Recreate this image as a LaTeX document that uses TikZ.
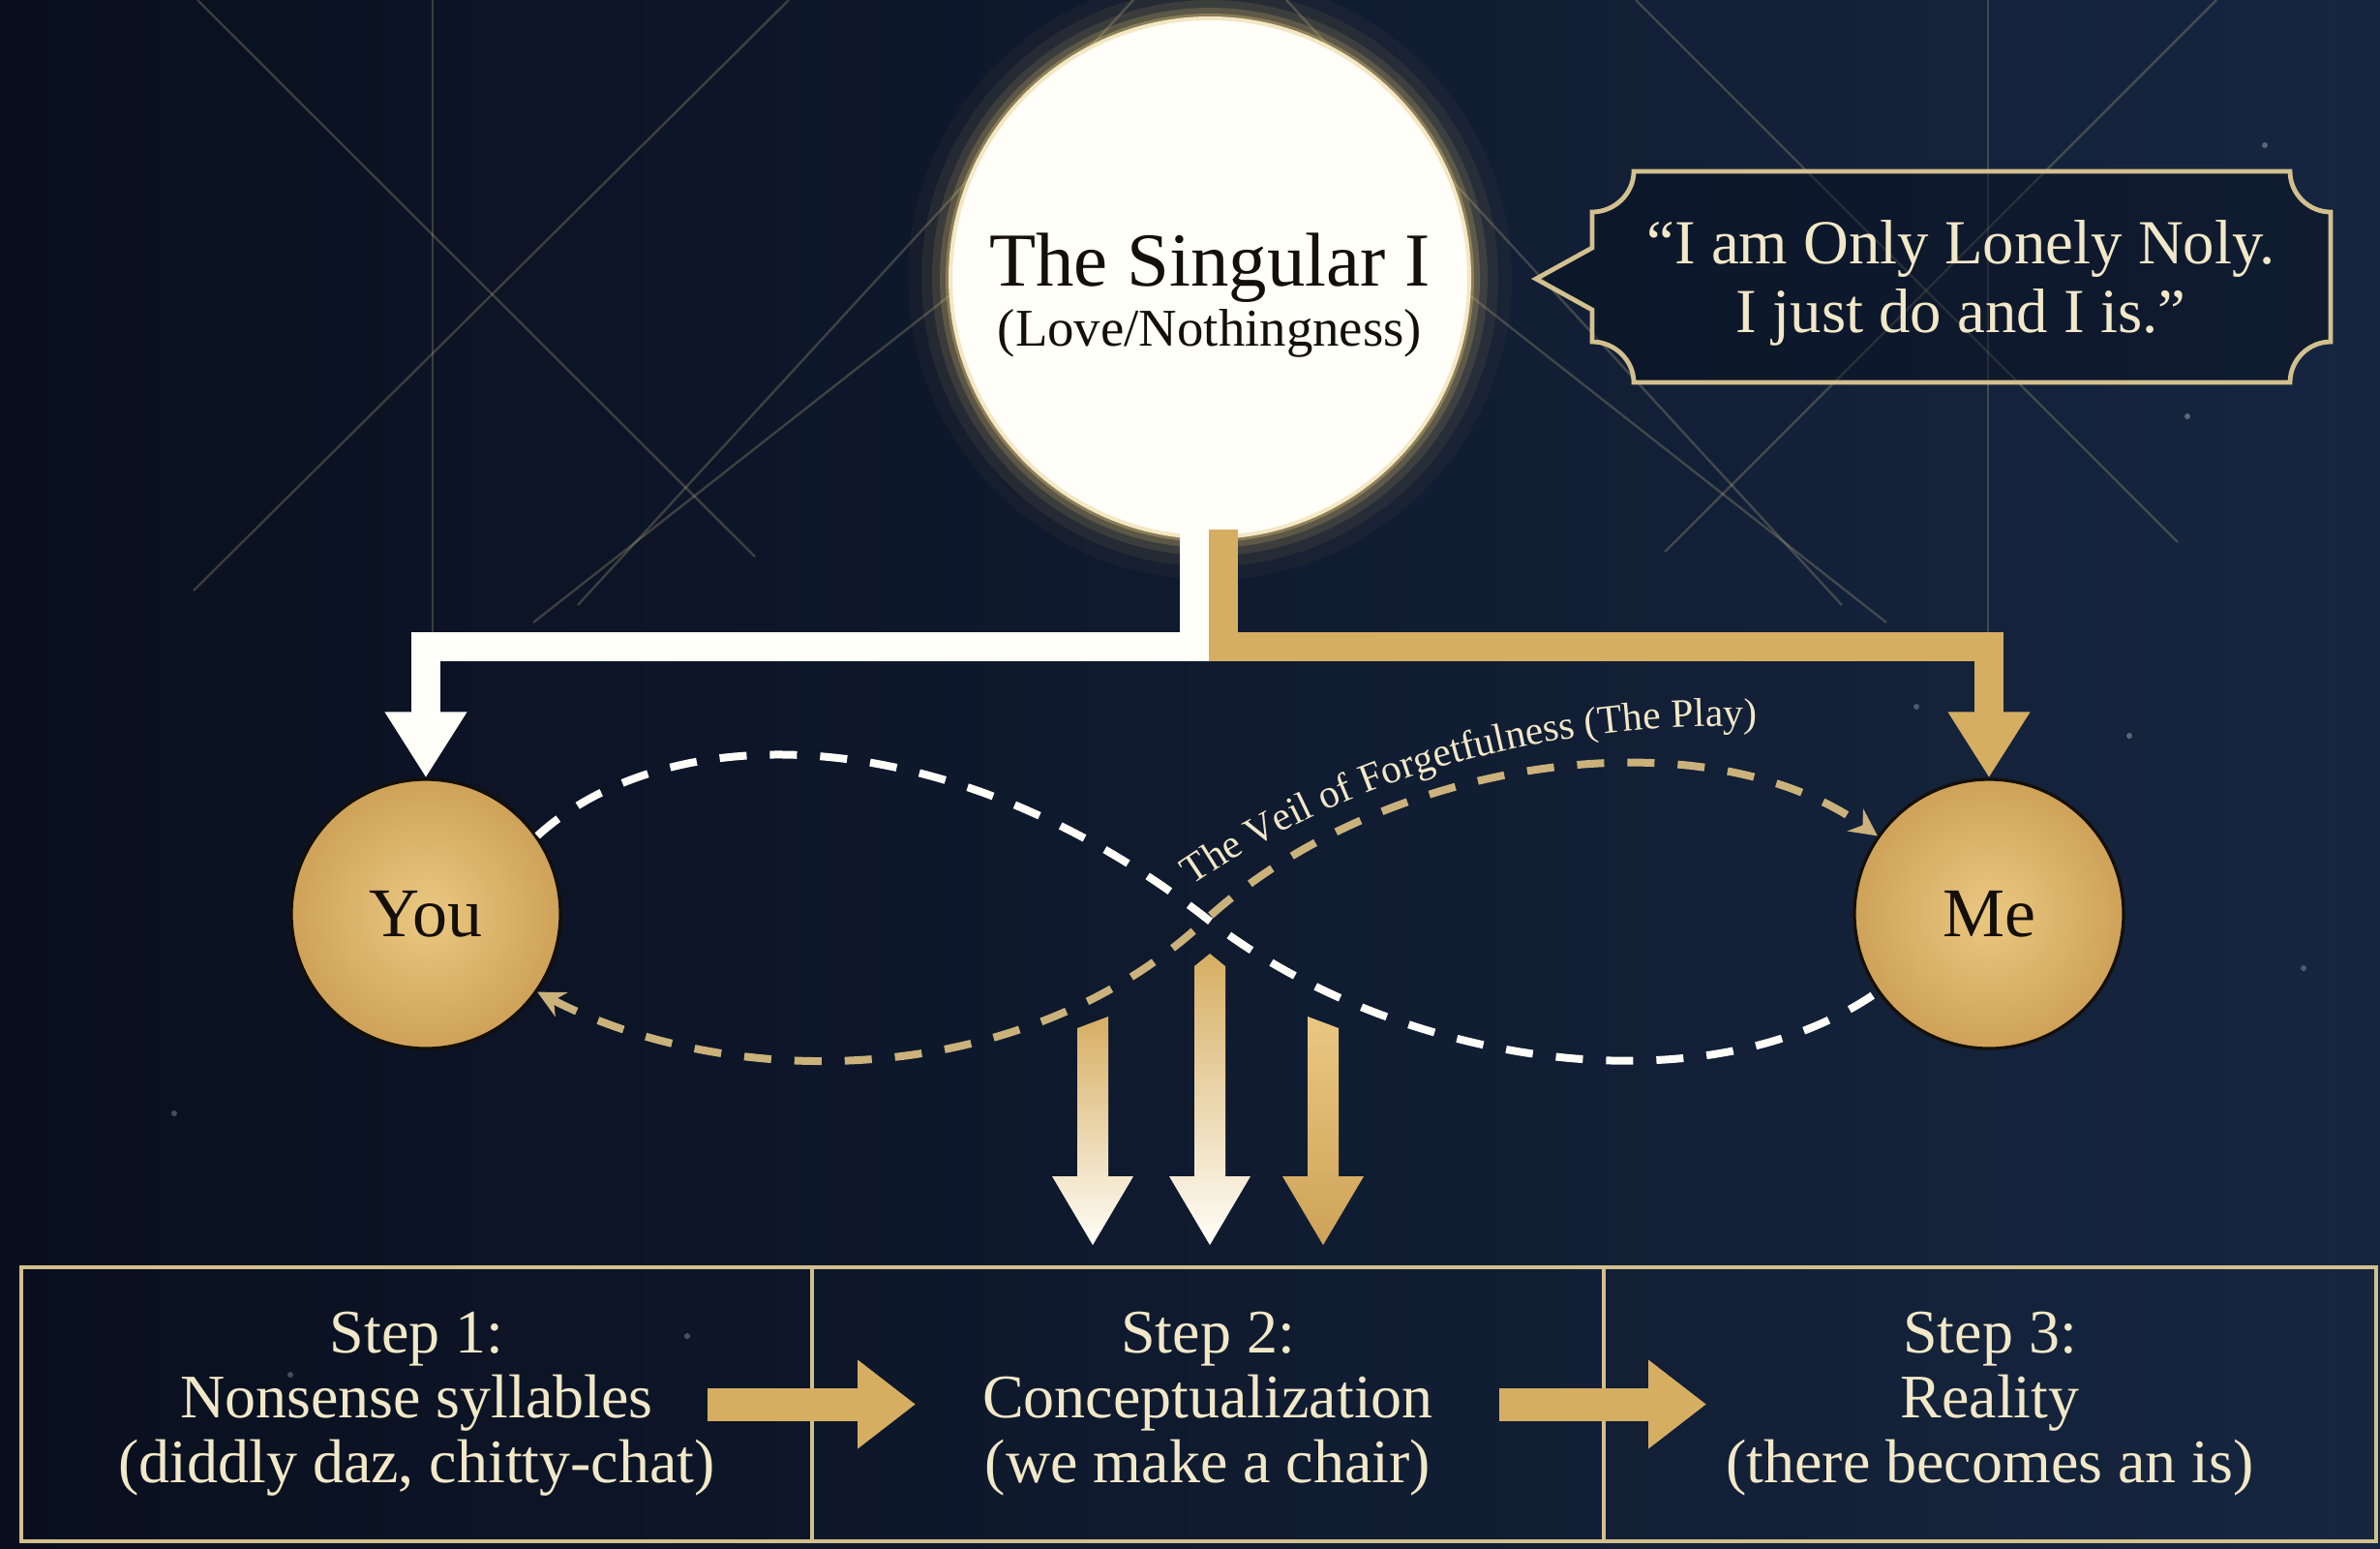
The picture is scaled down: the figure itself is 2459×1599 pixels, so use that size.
\documentclass[tikz,border=0pt]{standalone}
\usepackage{fontspec}
\setmainfont{Liberation Serif}
\usetikzlibrary{arrows.meta,decorations.text}

\definecolor{navydeep}{RGB}{9,15,30}
\definecolor{navylight}{RGB}{22,38,64}
\definecolor{goldbar}{RGB}{214,174,98}
\definecolor{goldsoft}{RGB}{234,200,130}
\definecolor{golddeep}{RGB}{206,162,88}
\definecolor{goldline}{RGB}{210,192,142}
\definecolor{dashgold}{RGB}{202,178,122}
\definecolor{creamtext}{RGB}{241,232,200}
\definecolor{inkdark}{RGB}{20,15,8}
\definecolor{glowgold}{RGB}{226,196,118}
\definecolor{paper}{RGB}{255,254,248}

\begin{document}
\begin{tikzpicture}[x=0.25pt,y=0.25pt,yscale=-1,
    bgline/.style={draw=goldline,opacity=0.25,line width=0.6pt},
    flowbar/.style={line width=7.5pt,line join=miter,-{Triangle[length=17pt,width=20pt]}},
    playdash/.style={line width=2pt,dash pattern=on 7pt off 6pt},
    person/.style={circle,minimum size=69.5pt,inner sep=0pt,draw=inkdark,line width=0.8pt,
        inner color=goldsoft,outer color=golddeep,text=inkdark,font=\fontsize{18}{20}\selectfont},
    stepbox/.style={draw=goldline,line width=1pt,minimum height=70.75pt,inner sep=0pt,outer sep=0pt,
        align=center,text=creamtext,font=\fontsize{16}{16.75}\selectfont},
    steparrow/.style={draw=goldbar,line width=8.5pt,-{Triangle[length=15pt,width=22pt]}}]

    %Shape: Background
    \shade[left color=navydeep,right color=navylight] (0,0) rectangle (2459,1599);
    \useasboundingbox (0,0) rectangle (2459,1599);

    %Straight Lines (faint geometry)
    \draw[bgline] (204,0) -- (780,575);
    \draw[bgline] (815,0) -- (200,610);
    \draw[bgline] (447,0) -- (447,655);
    \draw[bgline] (1171,0) -- (597,625);
    \draw[bgline] (1100,212) -- (551,643);
    \draw[bgline] (2054,0) -- (2054,655);
    \draw[bgline] (1690,0) -- (2250,560);
    \draw[bgline] (2290,0) -- (1720,570);
    \draw[bgline] (1329,0) -- (1903,625);
    \draw[bgline] (1400,212) -- (1949,643);

    %Shape: Stars
    \fill[white,opacity=0.3] (2340,150) circle[radius=3];
    \fill[white,opacity=0.3] (2200,760) circle[radius=3];
    \fill[white,opacity=0.25] (2380,1000) circle[radius=3];
    \fill[white,opacity=0.25] (1980,730) circle[radius=3];
    \fill[white,opacity=0.3] (2260,430) circle[radius=3];
    \fill[white,opacity=0.25] (180,1150) circle[radius=3];
    \fill[white,opacity=0.25] (300,1420) circle[radius=3];
    \fill[white,opacity=0.25] (710,1380) circle[radius=3];

    %Shape: Glow round the Singular I
    \fill[glowgold,opacity=0.04] (1250,287) circle[radius=312];
    \fill[glowgold,opacity=0.07] (1250,287) circle[radius=298];
    \fill[glowgold,opacity=0.12] (1250,287) circle[radius=287];
    \fill[glowgold,opacity=0.2] (1250,287) circle[radius=279];
    \fill[glowgold,opacity=0.35] (1250,287) circle[radius=273];

    %Shape: Circles
    \node[circle,minimum size=134pt,inner sep=0pt,fill=paper,draw=glowgold!40!paper,line width=1pt] (singular) at (1250,287) {};
    \node[person] (you) at (440,944) {You};
    \node[person] (me) at (2055,944) {Me};

    %Straight Lines (branches)
    \draw[flowbar,draw=paper] ([xshift=-4pt]singular.center) ++(0,260) -- ++(0,121) -| (you.north);
    \draw[flowbar,draw=goldbar] ([xshift=3.5pt]singular.center) ++(0,260) -- ++(0,121) -| (me.north);

    % Text Node
    \node[anchor=base,text=inkdark,font=\fontsize{19.7}{22}\selectfont] (singulartitle) at (1250,295) {The Singular I};
    % Text Node
    \node[anchor=base,text=inkdark,font=\fontsize{13.7}{16}\selectfont] (singularsub) at (1250,357) {(Love/Nothingness)};

    %Shape: Quote frame
    \draw[draw=goldline,line width=1.2pt,fill=navydeep,fill opacity=0.45] (1688,177) -- (2366,177)
        .. controls (2366,200) and (2385,219) .. (2408,219) -- (2408,353)
        .. controls (2385,353) and (2366,372) .. (2366,395) -- (1688,395)
        .. controls (1688,372) and (1668,353) .. (1645,353) -- (1645,320) -- (1587,288) -- (1645,256) -- (1645,219)
        .. controls (1668,219) and (1688,200) .. (1688,177) -- cycle;
    % Text Node
    \node[align=center,text=creamtext,font=\fontsize{16.2}{17.7}\selectfont] (quote) at (2026,292) {“I am Only Lonely Noly.\\I just do and I is.”};

    %Curve Lines (the play)
    \coordinate (cross) at (1247,949);
    \draw[playdash,draw=paper] (you.35) .. controls (690,740) and (980,740) .. (cross)
        .. controls (1440,1100) and (1760,1150) .. (me.215);
    \draw[playdash,draw=dashgold,{Stealth[length=7pt,width=7pt]}-{Stealth[length=7pt,width=7pt]}] (you.-35)
        .. controls (760,1130) and (1060,1125) .. (cross)
        .. controls (1430,782) and (1760,735) .. (me.145);
    % Text Node (along the veil)
    \path[decorate,decoration={text along path,text align=left,
        text={|\fontsize{10.4}{10}\selectfont\color{creamtext}|The Veil of Forgetfulness (The Play)}}]
        (1232,915) .. controls (1400,800) and (1610,738) .. (1860,752);

    %Shape: Falling arrows
    \shade[top color=goldbar,bottom color=paper] (1113,1062) -- (1145,1050) -- (1145,1215) -- (1171,1215)
        -- (1129,1286) -- (1087,1215) -- (1113,1215) -- cycle;
    \shade[top color=goldbar,middle color=creamtext,bottom color=paper] (1234,998) -- (1250,985) -- (1266,998)
        -- (1266,1215) -- (1292,1215) -- (1250,1286) -- (1208,1215) -- (1234,1215) -- cycle;
    \shade[top color=goldsoft,bottom color=golddeep] (1351,1050) -- (1383,1062) -- (1383,1215) -- (1409,1215)
        -- (1367,1286) -- (1325,1215) -- (1351,1215) -- cycle;

    %Shape: Steps
    \node[stepbox,minimum width=204.25pt] (stepone) at (430.5,1450.5) {Step 1:\\Nonsense syllables\\(diddly daz, chitty-chat)};
    \node[stepbox,minimum width=204.5pt,anchor=west] (steptwo) at (stepone.east) {Step 2:\\Conceptualization\\(we make a chair)};
    \node[stepbox,minimum width=199.5pt,anchor=west] (stepthree) at (steptwo.east) {Step 3:\\Reality\\(there becomes an is)};

    %Straight Lines (step arrows)
    \draw[steparrow] ([xshift=-27pt]stepone.east) -- ([xshift=26.75pt]stepone.east);
    \draw[steparrow] ([xshift=-27pt]steptwo.east) -- ([xshift=26.5pt]steptwo.east);

\end{tikzpicture}
\end{document}
